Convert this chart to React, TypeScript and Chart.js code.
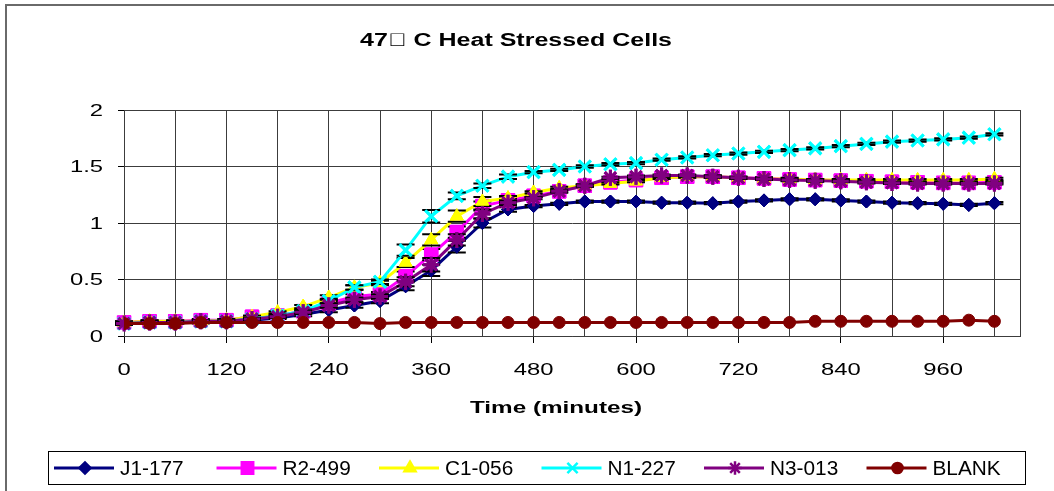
import React, { useEffect, useRef } from 'react';
import { Chart, registerables } from 'chart.js';
import { drawPoint } from 'chart.js/helpers';

Chart.register(...registerables);

const TITLE = '47\uF0B0 C Heat Stressed Cells';
const X_TITLE = 'Time (minutes)';
const FONT = "'Liberation Sans', Arial, sans-serif";

const times = [0, 30, 60, 90, 120, 150, 180, 210, 240, 270, 300, 330, 360, 390, 420, 450, 480, 510, 540, 570, 600, 630, 660, 690, 720, 750, 780, 810, 840, 870, 900, 930, 960, 990, 1020];
const xGridTicks = [0, 60, 120, 180, 240, 300, 360, 420, 480, 540, 600, 660, 720, 780, 840, 900, 960, 1020, 1050];
const xLabelTicks = [0, 120, 240, 360, 480, 600, 720, 840, 960];
const yTicks = [0, 0.5, 1, 1.5, 2];

const seriesNames = ['J1-177', 'R2-499', 'C1-056', 'N1-227', 'N3-013', 'BLANK'];

const j1 = [0.11, 0.12, 0.12, 0.12, 0.13, 0.14, 0.16, 0.19, 0.23, 0.27, 0.31, 0.44, 0.58, 0.79, 1.0, 1.12, 1.15, 1.17, 1.19, 1.19, 1.19, 1.18, 1.18, 1.175, 1.19, 1.2, 1.21, 1.21, 1.2, 1.19, 1.18, 1.175, 1.17, 1.16, 1.175];
const r2 = [0.12, 0.13, 0.13, 0.14, 0.14, 0.17, 0.18, 0.22, 0.29, 0.35, 0.37, 0.53, 0.72, 0.92, 1.15, 1.2, 1.24, 1.28, 1.33, 1.36, 1.38, 1.4, 1.41, 1.41, 1.4, 1.395, 1.385, 1.38, 1.375, 1.37, 1.365, 1.36, 1.355, 1.355, 1.36];
const c1 = [0.12, 0.13, 0.13, 0.13, 0.14, 0.17, 0.21, 0.26, 0.34, 0.43, 0.47, 0.65, 0.85, 1.06, 1.19, 1.22, 1.27, 1.31, 1.33, 1.35, 1.37, 1.4, 1.41, 1.41, 1.4, 1.39, 1.39, 1.38, 1.38, 1.38, 1.38, 1.38, 1.38, 1.38, 1.39];
const n1 = [0.11, 0.12, 0.12, 0.13, 0.13, 0.15, 0.18, 0.22, 0.31, 0.43, 0.48, 0.76, 1.06, 1.24, 1.33, 1.41, 1.45, 1.47, 1.5, 1.52, 1.53, 1.56, 1.58, 1.6, 1.615, 1.63, 1.645, 1.66, 1.68, 1.7, 1.72, 1.73, 1.74, 1.755, 1.785];
const n3 = [0.11, 0.12, 0.12, 0.13, 0.13, 0.15, 0.17, 0.21, 0.27, 0.32, 0.35, 0.48, 0.63, 0.85, 1.08, 1.18, 1.22, 1.28, 1.33, 1.4, 1.41, 1.42, 1.42, 1.41, 1.4, 1.39, 1.38, 1.375, 1.37, 1.36, 1.355, 1.35, 1.35, 1.35, 1.35];
const blank = [0.11, 0.11, 0.11, 0.12, 0.12, 0.12, 0.12, 0.12, 0.12, 0.12, 0.11, 0.12, 0.12, 0.12, 0.12, 0.12, 0.12, 0.12, 0.12, 0.12, 0.12, 0.12, 0.12, 0.12, 0.12, 0.12, 0.12, 0.13, 0.13, 0.13, 0.13, 0.13, 0.13, 0.14, 0.13];

const errJ1 = [0.01, 0.01, 0.01, 0.01, 0.01, 0.01, 0.01, 0.015, 0.02, 0.02, 0.02, 0.035, 0.05, 0.05, 0.04, 0.02, 0.01, 0.01, 0.01, 0.01, 0.01, 0.01, 0.01, 0.01, 0.01, 0.01, 0.01, 0.01, 0.01, 0.01, 0.01, 0.01, 0.01, 0.01, 0.01];
const errR2 = [0.01, 0.01, 0.01, 0.01, 0.01, 0.01, 0.01, 0.015, 0.02, 0.02, 0.02, 0.04, 0.05, 0.05, 0.04, 0.02, 0.01, 0.01, 0.01, 0.01, 0.01, 0.01, 0.01, 0.01, 0.01, 0.01, 0.01, 0.01, 0.01, 0.01, 0.01, 0.01, 0.01, 0.01, 0.01];
const errC1 = [0.01, 0.01, 0.01, 0.01, 0.01, 0.01, 0.01, 0.015, 0.02, 0.02, 0.02, 0.04, 0.05, 0.05, 0.04, 0.02, 0.01, 0.01, 0.01, 0.01, 0.01, 0.01, 0.01, 0.01, 0.01, 0.01, 0.01, 0.01, 0.01, 0.01, 0.01, 0.01, 0.01, 0.01, 0.01];
const errN1 = [0.01, 0.01, 0.01, 0.01, 0.01, 0.01, 0.01, 0.015, 0.02, 0.02, 0.02, 0.05, 0.055, 0.03, 0.02, 0.02, 0.01, 0.01, 0.01, 0.01, 0.01, 0.01, 0.01, 0.01, 0.01, 0.01, 0.01, 0.01, 0.01, 0.01, 0.01, 0.01, 0.01, 0.01, 0.01];
const errN3 = [0.01, 0.01, 0.01, 0.01, 0.01, 0.01, 0.01, 0.015, 0.02, 0.02, 0.02, 0.04, 0.06, 0.05, 0.04, 0.02, 0.01, 0.01, 0.01, 0.01, 0.01, 0.01, 0.01, 0.01, 0.01, 0.01, 0.01, 0.01, 0.01, 0.01, 0.01, 0.01, 0.01, 0.01, 0.01];

const seriesValues = [j1, r2, c1, n1, n3, blank];
const seriesErrors = [errJ1, errR2, errC1, errN1, errN3, null];
const seriesColors = ['#000080', '#FF00FF', '#FFFF00', '#00FFFF', '#800080', '#800000'];
const seriesStyles = ['rectRot', 'rect', 'triangle', 'crossRot', 'star', 'circle'];
const seriesRadius = [6.5, 9.5, 7.5, 8.5, 8, 6];

const GRID = '#3c3c3c';
const TEXT_STRETCH = 1.4;

function stretchedText(ctx: any, text: string, x: number, y: number, font: string, align: string, sx: number) {
  ctx.save();
  ctx.font = font;
  ctx.textAlign = align;
  ctx.textBaseline = 'middle';
  ctx.translate(x, y);
  ctx.scale(sx, 1);
  ctx.fillText(text, 0, 0);
  ctx.restore();
}

function fitText(ctx: any, text: string, cx: number, y: number, font: string, targetW: number) {
  ctx.save();
  ctx.font = font;
  const w = ctx.measureText(text).width || 1;
  ctx.restore();
  stretchedText(ctx, text, cx, y, font, 'center', targetW / w);
}

const errorBarPlugin = {
  id: 'errorBars',
  afterDatasetDraw(chart: any, args: any) {
    const idx = args.index;
    const errs = seriesErrors[idx];
    if (!errs) return;
    const ctx = chart.ctx;
    const yScale = chart.scales.y;
    const meta = args.meta;
    const vals = seriesValues[idx];
    const r = seriesRadius[idx] * 0.7;
    ctx.save();
    ctx.strokeStyle = '#000';
    ctx.lineWidth = 2;
    meta.data.forEach((el: any, i: number) => {
      const px = el.x;
      const py = el.y;
      const yt = yScale.getPixelForValue(vals[i] + errs[i]);
      const yb = yScale.getPixelForValue(vals[i] - errs[i]);
      ctx.beginPath();
      if (yt < py - r) { ctx.moveTo(px, py - r); ctx.lineTo(px, yt); }
      if (yb > py + r) { ctx.moveTo(px, py + r); ctx.lineTo(px, yb); }
      ctx.moveTo(px - 9, yt); ctx.lineTo(px + 9, yt);
      ctx.moveTo(px - 9, yb); ctx.lineTo(px + 9, yb);
      ctx.stroke();
    });
    ctx.restore();
    meta.data.forEach((el: any) => el.draw(ctx, chart.chartArea));
  },
};

const decorPlugin = {
  id: 'decor',
  beforeDraw(chart: any) {
    const ctx = chart.ctx;
    ctx.save();
    ctx.fillStyle = '#fff';
    ctx.fillRect(0, 0, chart.width, chart.height);
    ctx.strokeStyle = '#6a6a6a';
    ctx.lineWidth = 2;
    ctx.strokeRect(6, 5, chart.width + 20, chart.height + 20);
    ctx.restore();
  },
  afterDraw(chart: any) {
    const ctx = chart.ctx;
    const xs = chart.scales.x;
    const ys = chart.scales.y;
    ctx.save();
    ctx.fillStyle = '#000';

    // tick labels
    const tickFont = `17px ${FONT}`;
    xLabelTicks.forEach((v) => {
      stretchedText(ctx, String(v), xs.getPixelForValue(v), 370, tickFont, 'center', TEXT_STRETCH);
    });
    yTicks.forEach((v) => {
      stretchedText(ctx, String(v), 103, ys.getPixelForValue(v) + 1, tickFont, 'right', TEXT_STRETCH);
    });

    // titles
    fitText(ctx, TITLE, 516, 41, `bold 18px ${FONT}`, 312);
    fitText(ctx, X_TITLE, 556, 408, `bold 17px ${FONT}`, 172);

    // legend
    const bx = 48, by = 451, bw = 977, bh = 33;
    ctx.strokeStyle = '#000';
    ctx.lineWidth = 1;
    ctx.strokeRect(bx + 0.5, by + 0.5, bw, bh);
    const cy = by + bh / 2 + 0.5;
    seriesNames.forEach((name, i) => {
      const x0 = 54 + i * 162.5;
      ctx.strokeStyle = seriesColors[i];
      ctx.lineWidth = 3;
      ctx.beginPath();
      ctx.moveTo(x0, cy);
      ctx.lineTo(x0 + 60, cy);
      ctx.stroke();
      ctx.fillStyle = seriesColors[i];
      ctx.lineWidth = 2.5;
      drawPoint(ctx, { pointStyle: seriesStyles[i], radius: seriesRadius[i] * 0.85, rotation: 0, borderWidth: 2.5 } as any, x0 + 31, cy);
      ctx.fillStyle = '#000';
      stretchedText(ctx, name, x0 + 66, cy + 1, `20px ${FONT}`, 'left', 1.04);
    });
    ctx.restore();
  },
};

export default function App() {
  const ref = useRef<HTMLCanvasElement | null>(null);
  useEffect(() => {
    document.body.style.margin = '0';
    const canvas = ref.current;
    if (!canvas) return;
    const datasets = seriesNames.map((name, i) => ({
      label: name,
      data: times.map((t, k) => ({ x: t, y: seriesValues[i][k] })),
      borderColor: seriesColors[i],
      backgroundColor: seriesColors[i],
      pointBackgroundColor: seriesColors[i],
      pointBorderColor: seriesColors[i],
      pointStyle: seriesStyles[i],
      pointRadius: seriesRadius[i],
      pointBorderWidth: seriesStyles[i] === 'crossRot' || seriesStyles[i] === 'star' ? 3 : 1,
      borderWidth: 3,
      tension: 0,
      fill: false,
      order: seriesNames.length - i,
    }));
    const chart = new Chart(canvas, {
      type: 'line',
      data: { datasets },
      plugins: [decorPlugin, errorBarPlugin],
      options: {
        animation: false,
        responsive: true,
        maintainAspectRatio: false,
        layout: { padding: { top: 110, right: 34, left: 0, bottom: 0 } },
        plugins: { legend: { display: false }, title: { display: false }, tooltip: { enabled: false } },
        scales: {
          x: {
            type: 'linear',
            min: 0,
            max: 1050,
            afterBuildTicks: (scale: any) => { scale.ticks = xGridTicks.map((v) => ({ value: v })); },
            afterFit: (scale: any) => { scale.height = 155; },
            grid: {
              color: GRID,
              lineWidth: 1,
              drawTicks: true,
              tickLength: 7,
              tickColor: (c: any) => (c.tick && xLabelTicks.includes(c.tick.value) ? '#000' : 'rgba(0,0,0,0)'),
            },
            border: { display: true, color: GRID, width: 1 },
            ticks: { display: false, autoSkip: false, maxRotation: 0 },
          },
          y: {
            type: 'linear',
            min: 0,
            max: 2,
            afterBuildTicks: (scale: any) => { scale.ticks = yTicks.map((v) => ({ value: v })); },
            afterFit: (scale: any) => { scale.width = 124; },
            grid: { color: GRID, lineWidth: 1, drawTicks: true, tickLength: 6, tickColor: '#000' },
            border: { display: true, color: GRID, width: 1 },
            ticks: { display: false },
          },
        },
      },
    });
    return () => chart.destroy();
  }, []);
  return (
    <div style={{ position: 'relative', width: '1054px', height: '491px' }}>
      <canvas ref={ref} />
    </div>
  );
}
